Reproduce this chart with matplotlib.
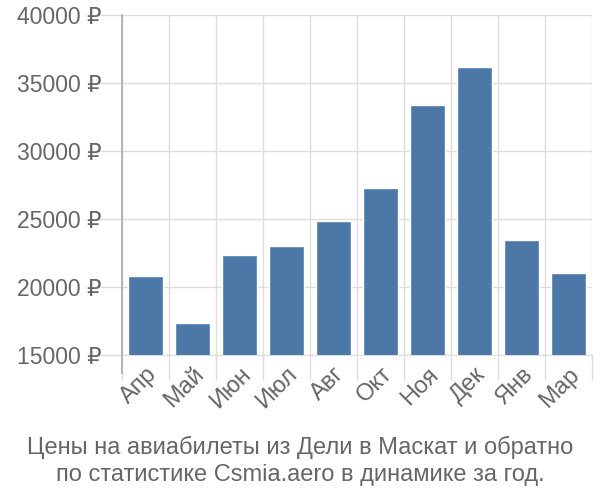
import matplotlib
matplotlib.use("Agg")
import matplotlib.pyplot as plt

months = ["Апр", "Май", "Июн", "Июл", "Авг", "Окт", "Ноя", "Дек", "Янв", "Мар"]
prices = [20800, 17350, 22350, 23000, 24850, 27280, 33350, 36150, 23450, 21000]
yticks = [15000, 20000, 25000, 30000, 35000, 40000]

plt.rcParams["font.family"] = ["Liberation Sans", "DejaVu Sans"]

fig = plt.figure(figsize=(6, 5), dpi=100)
ax = fig.add_axes([122/600, 1 - 355/500, 470/600, 340/500])

x = list(range(len(months)))
ax.bar(x, prices, width=0.74, color="#4c78a8", edgecolor="white", linewidth=1, zorder=3)

ax.set_xlim(-0.5, len(months) - 0.5)
ax.set_ylim(15000, 40000)

grid_c = "#dddddd"
txt_c = "#666666"
ax.set_xticks([i - 0.5 for i in range(len(months) + 1)], minor=False)
ax.set_xticklabels([])
ax.set_xticks(x, minor=True)
ax.set_xticklabels(months, minor=True, rotation=45, ha="right", rotation_mode="anchor",
                   fontsize=17, color=txt_c)
ax.tick_params(axis="x", which="major", length=18, color=grid_c, width=1)
ax.tick_params(axis="x", which="minor", length=0, pad=6)
ax.set_yticks(yticks)
ax.set_yticklabels([f"{v} ₽" for v in yticks], fontsize=16.5, color=txt_c)
ax.tick_params(axis="y", length=18, color=grid_c, width=1, pad=-3)

ax.grid(True, which="major", color=grid_c, linewidth=1, zorder=0)
for s in ["top", "right"]:
    ax.spines[s].set_visible(False)
ax.spines["bottom"].set_color(grid_c)
ax.spines["left"].set_visible(False)
ax.axvline(-0.5, ymin=-18/340, ymax=1, color="#aaaaaa", linewidth=1.2, clip_on=False, zorder=4)

fig.text(0.5, 1 - 447/500, "Цены на авиабилеты из Дели в Маскат и обратно", ha="center", va="center",
         fontsize=17, color=txt_c)
fig.text(0.5, 1 - 475/500, "по статистике Csmia.aero в динамике за год.", ha="center", va="center",
         fontsize=17, color=txt_c)

fig.savefig("out.png", dpi=100)
